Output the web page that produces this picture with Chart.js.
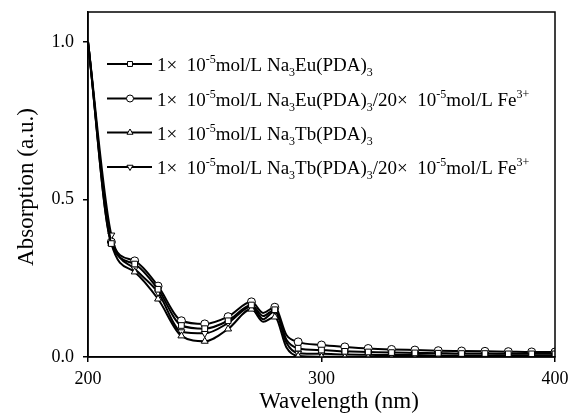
<!DOCTYPE html>
<html>
<head>
<meta charset="utf-8">
<script src="https://cdn.jsdelivr.net/npm/chart.js@4"></script>
<style>
  html, body { margin: 0; padding: 0; background: #fff; }
  #wrap { width: 579px; height: 415px; }
</style>
</head>
<body>
<div id="wrap"><canvas id="absChart"></canvas></div>
<script>
// wavelength (nm), markers only every 10 nm
const wavelength = [200, 210, 220, 230, 240, 250, 260, 270, 275, 280, 285, 290, 300, 310, 320, 330, 340, 350, 360, 370, 380, 390, 400];
const euPlain = [1.0, 0.36, 0.295, 0.215, 0.1, 0.09, 0.115, 0.165, 0.13, 0.15, 0.055, 0.028, 0.022, 0.018, 0.016, 0.014, 0.013, 0.012, 0.011, 0.011, 0.01, 0.01, 0.01];
const euFe = [1.0, 0.365, 0.305, 0.225, 0.115, 0.105, 0.128, 0.175, 0.14, 0.158, 0.07, 0.048, 0.038, 0.032, 0.027, 0.024, 0.022, 0.02, 0.019, 0.018, 0.017, 0.016, 0.016];
const tbPlain = [1.0, 0.36, 0.27, 0.184, 0.067, 0.05, 0.089, 0.152, 0.112, 0.127, 0.03, 0.003, 0.001, 0, 0, 0, 0, 0, 0, 0, 0, 0, 0];
const tbFe = [1.0, 0.387, 0.28, 0.205, 0.08, 0.075, 0.108, 0.16, 0.12, 0.145, 0.045, 0.012, 0.01, 0.008, 0.007, 0.006, 0.006, 0.005, 0.005, 0.005, 0.005, 0.005, 0.005];

// ^{..} = superscript, _{..} = subscript
const seriesLabels = [
  '1×  10^{-5}mol/L Na_{3}Eu(PDA)_{3}',
  '1×  10^{-5}mol/L Na_{3}Eu(PDA)_{3}/20×  10^{-5}mol/L Fe^{3+}',
  '1×  10^{-5}mol/L Na_{3}Tb(PDA)_{3}',
  '1×  10^{-5}mol/L Na_{3}Tb(PDA)_{3}/20×  10^{-5}mol/L Fe^{3+}'
];
const xTicks = [200, 300, 400];
const yTicks = [0.0, 0.5, 1.0];
const xTitle = 'Wavelength (nm)';
const yTitle = 'Absorption (a.u.)';

const FONT = '"Liberation Serif", "Times New Roman", serif';

function toPoints(ys) {
  return wavelength.map((w, i) => ({ x: w, y: ys[i] }));
}

// marker only on multiples of 10, skip the first point
function markerRadius(ctx) {
  const w = wavelength[ctx.dataIndex];
  return (w % 10 === 0 && w > 200) ? 4 : 0;
}

function makeSet(label, ys, style, rot) {
  return {
    label: label,
    data: toPoints(ys),
    borderColor: '#000',
    backgroundColor: '#fff',
    borderWidth: 2,
    pointStyle: style,
    rotation: rot,
    pointRadius: markerRadius,
    pointBorderWidth: 1,
    pointBackgroundColor: '#fff',
    pointBorderColor: '#000',
    cubicInterpolationMode: 'monotone'
  };
}

function parseRich(str) {
  const parts = [];
  const re = /([\^_])\{([^}]*)\}/g;
  let last = 0, m;
  while ((m = re.exec(str)) !== null) {
    if (m.index > last) parts.push({ t: str.slice(last, m.index), k: 'n' });
    parts.push({ t: m[2], k: m[1] === '^' ? 'sup' : 'sub' });
    last = re.lastIndex;
  }
  if (last < str.length) parts.push({ t: str.slice(last), k: 'n' });
  return parts;
}

// legend drawn inside the plot, with sub/superscripts
const innerLegend = {
  id: 'innerLegend',
  afterDatasetsDraw(chart) {
    const ctx = chart.ctx;
    const rows = [64, 98.5, 132.5, 167];
    ctx.save();
    chart.data.datasets.forEach((ds, i) => {
      const y = rows[i];
      ctx.strokeStyle = '#000';
      ctx.lineWidth = 2;
      ctx.beginPath();
      ctx.moveTo(107, y);
      ctx.lineTo(152, y);
      ctx.stroke();
      ctx.fillStyle = '#fff';
      ctx.lineWidth = 1;
      Chart.helpers.drawPoint(ctx, { pointStyle: ds.pointStyle, rotation: ds.rotation, radius: 3.5, borderWidth: 1 }, 130, y);
      let x = 157;
      ctx.fillStyle = '#000';
      ctx.textBaseline = 'alphabetic';
      parseRich(ds.label).forEach(p => {
        let size = 19, dy = 0;
        if (p.k === 'sup') { size = 12; dy = -8; }
        if (p.k === 'sub') { size = 12; dy = 5; }
        ctx.font = size + 'px ' + FONT;
        ctx.fillText(p.t, x, y + 7 + dy);
        x += ctx.measureText(p.t).width;
      });
    });
    ctx.restore();
  }
};

// box around the plot area + axis titles
const frame = {
  id: 'frame',
  afterDraw(chart) {
    const a = chart.chartArea;
    const ctx = chart.ctx;
    ctx.save();
    ctx.strokeStyle = '#000';
    ctx.lineWidth = 1.5;
    ctx.strokeRect(a.left, a.top, a.right - a.left, a.bottom - a.top);
    ctx.fillStyle = '#000';
    ctx.font = '23px ' + FONT;
    ctx.textAlign = 'center';
    ctx.textBaseline = 'alphabetic';
    ctx.fillText(xTitle, 339, 408);
    ctx.translate(33, 187);
    ctx.rotate(-Math.PI / 2);
    ctx.fillText(yTitle, 0, 0);
    ctx.restore();
  }
};

new Chart(document.getElementById('absChart'), {
  type: 'line',
  data: {
    datasets: [
      makeSet(seriesLabels[0], euPlain, 'rect', 0),
      makeSet(seriesLabels[1], euFe, 'circle', 0),
      makeSet(seriesLabels[2], tbPlain, 'triangle', 0),
      makeSet(seriesLabels[3], tbFe, 'triangle', 180)
    ]
  },
  options: {
    responsive: true,
    maintainAspectRatio: false,
    animation: false,
    layout: { padding: { left: 0, right: 24, top: 12, bottom: 0 } },
    plugins: {
      legend: { display: false },
      tooltip: { enabled: false }
    },
    scales: {
      x: {
        type: 'linear',
        min: 200,
        max: 400,
        afterFit(scale) { scale.height = 58; scale.paddingLeft = 0; scale.paddingRight = 0; },
        afterBuildTicks(scale) { scale.ticks = xTicks.map(v => ({ value: v })); },
        ticks: { color: '#000', font: { family: FONT, size: 18 }, padding: 6, maxRotation: 0 },
        grid: { drawOnChartArea: false, drawTicks: true, tickLength: 5, color: '#000', lineWidth: 1.5 },
        border: { display: true, color: '#000', width: 1.5 }
      },
      y: {
        min: 0,
        max: 1.095,
        afterFit(scale) { scale.width = 88; scale.paddingTop = 0; scale.paddingBottom = 0; },
        afterBuildTicks(scale) { scale.ticks = yTicks.map(v => ({ value: v })); },
        ticks: { color: '#000', font: { family: FONT, size: 18 }, padding: 9, callback: v => v.toFixed(1) },
        grid: { drawOnChartArea: false, drawTicks: true, tickLength: 5, color: '#000', lineWidth: 1.5 },
        border: { display: true, color: '#000', width: 1.5 }
      }
    }
  },
  plugins: [innerLegend, frame]
});
</script>
</body>
</html>
